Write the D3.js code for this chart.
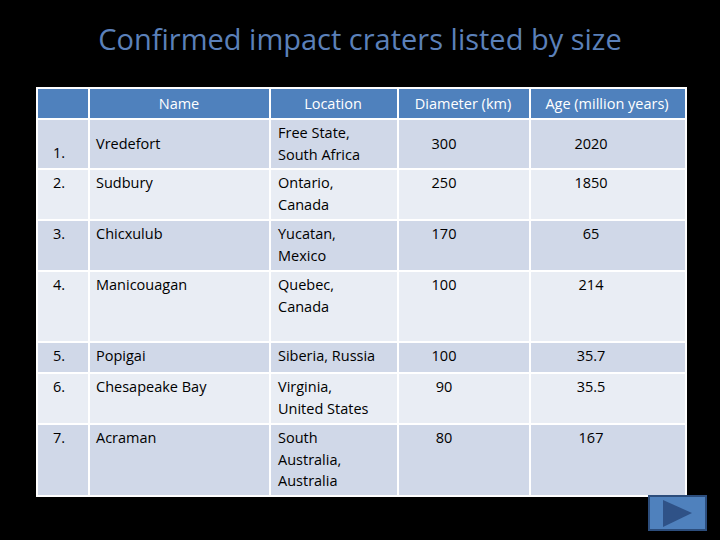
<!DOCTYPE html>
<html><head><meta charset="utf-8">
<script src="https://cdn.jsdelivr.net/npm/d3@7"></script>
<style>body{margin:0;background:#000}</style>
</head><body>
<svg id="c" width="720" height="540"></svg>
<script>
const headers = ["", "Name", "Location", "Diameter (km)", "Age (million years)"];
const ranks = ["1.", "2.", "3.", "4.", "5.", "6.", "7."];
const names = ["Vredefort", "Sudbury", "Chicxulub", "Manicouagan", "Popigai", "Chesapeake Bay", "Acraman"];
const locations = [["Free State,", "South Africa"], ["Ontario,", "Canada"], ["Yucatan,", "Mexico"],
  ["Quebec,", "Canada"], ["Siberia, Russia"], ["Virginia,", "United States"], ["South", "Australia,", "Australia"]];
const diameters = ["300", "250", "170", "100", "100", "90", "80"];
const ages = ["2020", "1850", "65", "214", "35.7", "35.5", "167"];

const colEdges = [37, 89, 270, 398, 530, 686];
const rowEdges = [88, 119, 169, 220, 271, 342, 373, 424, 496];

const svg = d3.select("#c");
const font = "'Open Sans', sans-serif";

svg.append("text").attr("x", 360).attr("y", 50).attr("text-anchor", "middle")
  .attr("font-family", font).attr("font-size", 29).attr("fill", "#5b80b9")
  .text("Confirmed impact craters listed by size");

svg.append("rect").attr("x", 36).attr("y", 87).attr("width", 651).attr("height", 410).attr("fill", "#fff");

const rows = d3.range(8);
rows.forEach(r => {
  for (let c = 0; c < 5; c++) {
    svg.append("rect")
      .attr("x", colEdges[c] + 1).attr("y", rowEdges[r] + 1)
      .attr("width", colEdges[c + 1] - colEdges[c] - 2)
      .attr("height", rowEdges[r + 1] - rowEdges[r] - 2)
      .attr("fill", r === 0 ? "#4f81bd" : (r % 2 === 1 ? "#d0d8e8" : "#e9edf4"));
  }
});

const hx = [63, 179, 333, 463, 607];
headers.forEach((h, c) => {
  svg.append("text").attr("x", hx[c]).attr("y", 109).attr("text-anchor", "middle")
    .attr("font-family", font).attr("font-size", 14.5).attr("fill", "#fff").text(h);
});

const cell = (x, y, t, anchor) => svg.append("text").attr("x", x).attr("y", y)
  .attr("text-anchor", anchor || "start").attr("font-family", font)
  .attr("font-size", 14.5).attr("fill", "#000").text(t);

ranks.forEach((rk, i) => {
  const top = rowEdges[i + 1];
  const first = i === 0;
  const base = first ? 149 : top + 19;
  cell(53, first ? 158 : base, rk);
  cell(96, base, names[i]);
  const locBase = first ? 138 : base;
  locations[i].forEach((l, j) => cell(278, locBase + j * 21.5, l));
  cell(444, base, diameters[i], "middle");
  cell(591, base, ages[i], "middle");
});

// play button
svg.append("rect").attr("x", 649).attr("y", 496).attr("width", 57).attr("height", 34)
  .attr("fill", "#4f81bd").attr("stroke", "#2c4d7c").attr("stroke-width", 2);
svg.append("path").attr("d", "M663,500 L692,513 L663,527 Z").attr("fill", "#2f5287");
</script>
</body></html>
